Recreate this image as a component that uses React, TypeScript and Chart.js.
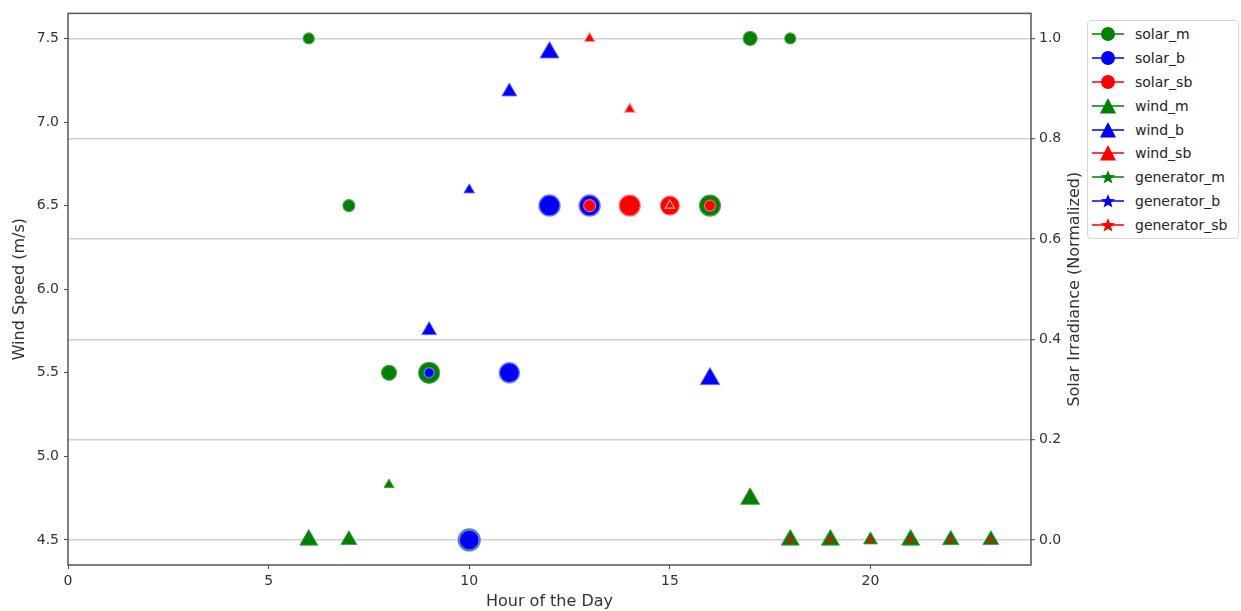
import React, { useEffect, useRef } from "react";
import { Chart, registerables } from "chart.js";

Chart.register(...registerables);

const FONT = "'DejaVu Sans', 'Liberation Sans', sans-serif";
const GREEN = "#008000";
const BLUE = "#0000ff";
const RED = "#ff0000";

const X_TICKS = [0, 5, 10, 15, 20];
const LEFT_TICKS = [4.5, 5.0, 5.5, 6.0, 6.5, 7.0, 7.5];
const RIGHT_TICKS = [0, 0.2, 0.4, 0.6, 0.8, 1.0];

const X_TITLE = "Hour of the Day";
const LEFT_TITLE = "Wind Speed (m/s)";
const RIGHT_TITLE = "Solar Irradiance (Normalized)";

// circles: wind speed (left axis)
const solarMHours = [6, 7, 8, 9, 10, 16, 17, 18];
const solarMValues = [7.5, 6.5, 5.5, 5.5, 4.5, 6.5, 7.5, 7.5];
const solarBHours = [9, 10, 11, 12, 13];
const solarBValues = [5.5, 4.5, 5.5, 6.5, 6.5];
const solarSbHours = [13, 14, 15, 16];
const solarSbValues = [6.5, 6.5, 6.5, 6.5];

// triangles: solar irradiance (right axis)
const windMHours = [6, 7, 8, 17, 18, 19, 20, 21, 22, 23];
const windMValues = [0, 0, 0.11, 0.082, 0, 0, 0, 0, 0, 0];
const windBHours = [9, 10, 11, 12, 16];
const windBValues = [0.418, 0.698, 0.894, 0.972, 0.321];
const windSbHours = [13, 14, 15];
const windSbValues = [1.0, 0.859, 0.667];

// stars: generator (left axis)
const generatorMHours: number[] = [];
const generatorMValues: number[] = [];
const generatorBHours: number[] = [];
const generatorBValues: number[] = [];
const generatorSbHours = [18, 19, 20, 21, 22, 23];
const generatorSbValues = [4.5, 4.5, 4.5, 4.5, 4.5, 4.5];

// marker radii (style)
const solarMRadius = [5.5, 6, 7.5, 10.5, 11, 10.5, 7, 5.5];
const solarBRadius = [5, 10, 10, 10.5, 10.5];
const solarSbRadius = [6, 10.5, 9.5, 5.5];
const windMRadius = [10.4, 9.2, 5.8, 11, 10.4, 10.4, 8, 10.4, 9.5, 9.2];
const windBRadius = [8.7, 6.2, 8.7, 11, 11.4];
const windSbRadius = [6.2, 6.3, 5.5];

const LEGEND = [
  { label: "solar_m", color: GREEN, shape: "circle" },
  { label: "solar_b", color: BLUE, shape: "circle" },
  { label: "solar_sb", color: RED, shape: "circle" },
  { label: "wind_m", color: GREEN, shape: "triangle" },
  { label: "wind_b", color: BLUE, shape: "triangle" },
  { label: "wind_sb", color: RED, shape: "triangle" },
  { label: "generator_m", color: GREEN, shape: "star" },
  { label: "generator_b", color: BLUE, shape: "star" },
  { label: "generator_sb", color: RED, shape: "star" },
];

const pts = (xs: number[], ys: number[]) => xs.map((x, i) => ({ x, y: ys[i] }));

function starPoints(cx: number, cy: number, ro: number, ri: number) {
  const p: string[] = [];
  for (let i = 0; i < 10; i++) {
    const r = i % 2 === 0 ? ro : ri;
    const a = -Math.PI / 2 + (i * Math.PI) / 5;
    p.push(`${(cx + r * Math.cos(a)).toFixed(2)},${(cy + r * Math.sin(a)).toFixed(2)}`);
  }
  return p.join(" ");
}

function makeStar(color: string, size: number) {
  const c = document.createElement("canvas");
  c.width = size;
  c.height = size;
  const ctx = c.getContext("2d")!;
  const cx = size / 2, cy = size / 2, ro = size / 2, ri = size / 5;
  ctx.beginPath();
  for (let i = 0; i < 10; i++) {
    const r = i % 2 === 0 ? ro : ri;
    const a = -Math.PI / 2 + (i * Math.PI) / 5;
    const x = cx + r * Math.cos(a), y = cy + r * Math.sin(a);
    if (i === 0) ctx.moveTo(x, y); else ctx.lineTo(x, y);
  }
  ctx.closePath();
  ctx.fillStyle = color;
  ctx.fill();
  return c;
}

const framePlugin = {
  id: "frame",
  afterDatasetsDraw(chart: any) {
    const { ctx, chartArea: a } = chart;
    ctx.save();
    ctx.strokeStyle = "#555";
    ctx.lineWidth = 1.5;
    ctx.strokeRect(a.left, a.top, a.right - a.left, a.bottom - a.top);
    ctx.restore();
  },
};

const rightTitlePlugin = {
  id: "rightTitle",
  afterDraw(chart: any) {
    const s = chart.scales.y2;
    const ctx = chart.ctx;
    ctx.save();
    ctx.translate(s.right - 14, (s.top + s.bottom) / 2);
    ctx.rotate(-Math.PI / 2);
    ctx.font = `16px ${FONT}`;
    ctx.fillStyle = "#333";
    ctx.textAlign = "center";
    ctx.textBaseline = "middle";
    ctx.fillText(RIGHT_TITLE, 0, 0);
    ctx.restore();
  },
};

function LegendIcon({ shape, color }: { shape: string; color: string }) {
  return (
    <svg width={32} height={20} style={{ display: "block" }}>
      <line x1={0} y1={10} x2={32} y2={10} stroke={color} strokeWidth={1.5} />
      {shape === "circle" && <circle cx={16} cy={10} r={7} fill={color} />}
      {shape === "triangle" && <polygon points="16,2 24,17.5 8,17.5" fill={color} />}
      {shape === "star" && <polygon points={starPoints(16, 10.5, 7.5, 3.2)} fill={color} />}
    </svg>
  );
}

export default function App() {
  const canvasRef = useRef<HTMLCanvasElement | null>(null);

  useEffect(() => {
    if (!canvasRef.current) return;
    const redStar = makeStar(RED, 9);
    const tickFont = { family: FONT, size: 14 };
    const titleFont = { family: FONT, size: 16 };

    const chart = new Chart(canvasRef.current, {
      type: "scatter",
      data: {
        datasets: [
          {
            label: "solar_m", data: pts(solarMHours, solarMValues), yAxisID: "y", order: 9,
            backgroundColor: GREEN, borderColor: "rgba(70,160,70,0.9)", borderWidth: 1.2,
            pointStyle: "circle", pointRadius: solarMRadius, pointHoverRadius: solarMRadius,
          },
          {
            label: "solar_b", data: pts(solarBHours, solarBValues), yAxisID: "y", order: 8,
            backgroundColor: BLUE, borderColor: "rgba(110,120,255,0.9)", borderWidth: 1.5,
            pointStyle: "circle", pointRadius: solarBRadius, pointHoverRadius: solarBRadius,
          },
          {
            label: "solar_sb", data: pts(solarSbHours, solarSbValues), yAxisID: "y", order: 7,
            backgroundColor: RED, borderColor: "rgba(255,110,110,0.9)", borderWidth: 1.2,
            pointStyle: "circle", pointRadius: solarSbRadius, pointHoverRadius: solarSbRadius,
          },
          {
            label: "wind_m", data: pts(windMHours, windMValues), yAxisID: "y2", order: 6,
            backgroundColor: GREEN, borderColor: "rgba(70,160,70,0.9)", borderWidth: 1,
            pointStyle: "triangle", pointRadius: windMRadius, pointHoverRadius: windMRadius,
          },
          {
            label: "wind_b", data: pts(windBHours, windBValues), yAxisID: "y2", order: 5,
            backgroundColor: BLUE, borderColor: "rgba(110,120,255,0.9)", borderWidth: 1,
            pointStyle: "triangle", pointRadius: windBRadius, pointHoverRadius: windBRadius,
          },
          {
            label: "wind_sb", data: pts(windSbHours, windSbValues), yAxisID: "y2", order: 4,
            backgroundColor: RED, borderColor: "rgba(255,170,170,0.95)", borderWidth: 1.2,
            pointStyle: "triangle", pointRadius: windSbRadius, pointHoverRadius: windSbRadius,
          },
          {
            label: "generator_m", data: pts(generatorMHours, generatorMValues), yAxisID: "y", order: 3,
            backgroundColor: GREEN, borderColor: GREEN, pointStyle: "star", pointRadius: 5,
          },
          {
            label: "generator_b", data: pts(generatorBHours, generatorBValues), yAxisID: "y", order: 2,
            backgroundColor: BLUE, borderColor: BLUE, pointStyle: "star", pointRadius: 5,
          },
          {
            label: "generator_sb", data: pts(generatorSbHours, generatorSbValues), yAxisID: "y", order: 1,
            backgroundColor: RED, borderColor: RED, pointStyle: redStar as any, pointRadius: 4,
          },
        ],
      },
      options: {
        responsive: true,
        maintainAspectRatio: false,
        animation: false,
        events: [],
        layout: { padding: { top: 13, right: 152, left: 0, bottom: 0 } },
        plugins: { legend: { display: false }, tooltip: { enabled: false } },
        scales: {
          x: {
            type: "linear",
            position: "bottom",
            min: 0,
            max: 24,
            afterBuildTicks: (s: any) => { s.ticks = X_TICKS.map((v) => ({ value: v })); },
            afterFit: (s: any) => { s.height = 46; },
            grid: { drawOnChartArea: false, drawTicks: true, tickLength: 4, tickColor: "#444", tickWidth: 1 },
            border: { display: false },
            ticks: { color: "#333", font: tickFont, padding: 4, maxRotation: 0, autoSkip: false, callback: (v: any) => String(v) },
            title: { display: true, text: X_TITLE, color: "#333", font: titleFont, padding: { top: 0, bottom: 0 } },
          },
          y: {
            type: "linear",
            position: "left",
            min: 4.35,
            max: 7.65,
            afterBuildTicks: (s: any) => { s.ticks = LEFT_TICKS.map((v) => ({ value: v })); },
            afterFit: (s: any) => { s.width = 68; },
            grid: { drawOnChartArea: false, drawTicks: true, tickLength: 4, tickColor: "#444", tickWidth: 1 },
            border: { display: false },
            ticks: { color: "#333", font: tickFont, padding: 5, autoSkip: false, callback: (v: any) => Number(v).toFixed(1) },
            title: { display: true, text: LEFT_TITLE, color: "#333", font: titleFont, padding: { top: 10, bottom: 0 } },
          },
          y2: {
            type: "linear",
            position: "right",
            min: -0.05,
            max: 1.05,
            afterBuildTicks: (s: any) => { s.ticks = RIGHT_TICKS.map((v) => ({ value: v })); },
            afterFit: (s: any) => { s.width = 58; },
            grid: { drawOnChartArea: true, color: "#d0d0d0", lineWidth: 1.4, drawTicks: true, tickLength: 4, tickColor: "#444", tickWidth: 1 },
            border: { display: false },
            ticks: { color: "#333", font: tickFont, padding: 4, autoSkip: false, callback: (v: any) => Number(v).toFixed(1) },
            title: { display: false },
          },
        },
      },
      plugins: [framePlugin, rightTitlePlugin],
    } as any);
    return () => chart.destroy();
  }, []);

  return (
    <div style={{ position: "fixed", left: 0, top: 0, width: 1241, height: 611, background: "#fff" }}>
      <canvas ref={canvasRef} />
      <div
        style={{
          position: "absolute",
          left: 1087,
          top: 20,
          width: 152,
          height: 219,
          boxSizing: "border-box",
          border: "1px solid #d8d8d8",
          borderRadius: 4,
          background: "#fff",
          paddingTop: 1,
          fontFamily: FONT,
          fontSize: 14,
          color: "#222",
        }}
      >
        {LEGEND.map((item) => (
          <div key={item.label} style={{ display: "flex", alignItems: "center", height: 23.9 }}>
            <div style={{ marginLeft: 4, width: 32 }}>
              <LegendIcon shape={item.shape} color={item.color} />
            </div>
            <span style={{ marginLeft: 11, whiteSpace: "nowrap" }}>{item.label}</span>
          </div>
        ))}
      </div>
    </div>
  );
}
